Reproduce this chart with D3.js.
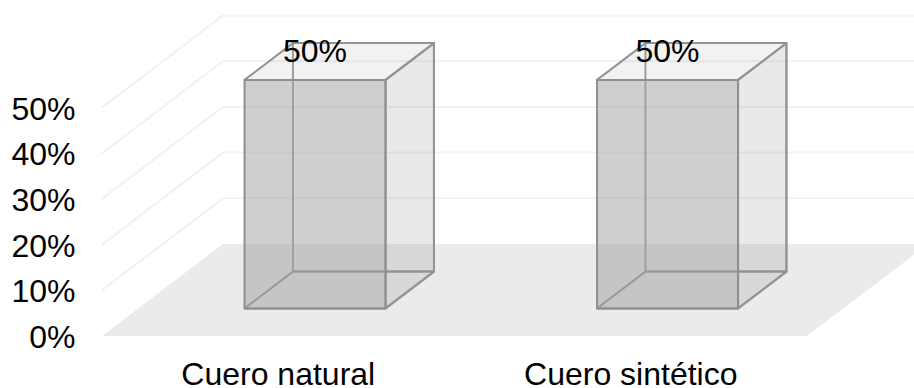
<!DOCTYPE html>
<html>
<head>
<meta charset="utf-8">
<script src="https://cdn.jsdelivr.net/npm/d3@7"></script>
<style>
    html, body { margin: 0; padding: 0; background: #fff; }
    text { font-family: "Liberation Sans", Arial, sans-serif; fill: #000; }
</style>
</head>
<body>
<svg id="chart" width="914" height="388"></svg>
<script>
// Chart data
var categories = ['Cuero natural', 'Cuero sintético'];
var seriesValues = [0.5, 0.5];
var tickValues = [0, 0.1, 0.2, 0.3, 0.4, 0.5];

var fontSize = 32;
var svg = d3.select('#chart');

// Front edge of the floor, and how far the depth axis pushes things back
var floorFront = 336;
var xScale = d3.scaleBand()
    .domain(categories)
    .range([102, 807])
    .paddingInner(0.6)
    .paddingOuter(0.3);
var yScale = d3.scaleLinear().domain([0, 0.5]).range([0, 228.5]);
var depthX = d3.scaleLinear().domain([0, 1]).range([0, 121]);
var depthY = d3.scaleLinear().domain([0, 1]).range([0, 92]);

// Project chart coordinates (x on the front plane, value, depth 0..1) to the page
function px(x, depth) { return x + depthX(depth); }
function py(value, depth) { return floorFront - yScale(value) - depthY(depth); }
function face(points) {
    return 'M' + points.map(function (p) {
        return px(p[0], p[2]) + ',' + py(p[1], p[2]);
    }).join('L') + 'Z';
}

var floorRight = xScale.range()[1];
var floorLeft = xScale.range()[0];

// Floor
svg.append('path')
    .attr('d', face([
        [floorLeft, 0, 0], [floorRight, 0, 0],
        [floorRight, 0, 1], [floorLeft, 0, 1]
    ]))
    .style('fill', '#ebebeb');

// Grid lines on the side and back walls
var gridTicks = tickValues.slice(1);
svg.append('g').selectAll('path')
    .data(gridTicks)
    .enter()
  .append('path')
    .attr('d', function (d) {
        return 'M' + px(floorLeft, 0) + ',' + py(d, 0) +
            'L' + px(floorLeft, 1) + ',' + py(d, 1) +
            'L914,' + py(d, 1);
    })
    .style('fill', 'none')
    .style('stroke', '#f1f1f1')
    .style('stroke-width', 2);

// Bars
var barFront = 0.3;
var barBack = 0.7;
var bars = svg.append('g').selectAll('g')
    .data(categories)
    .enter()
  .append('g')
    .attr('transform', 'translate(0.5,0)');

function drawFace(cornersOf, fill, opacity, stroke) {
    bars.append('path')
        .attr('d', function (d, i) { return face(cornersOf(xScale(d), xScale(d) + xScale.bandwidth(), seriesValues[i])); })
        .style('fill', fill)
        .style('fill-opacity', opacity)
        .style('stroke', stroke)
        .style('stroke-width', 2)
        .style('stroke-linejoin', 'round');
}

// Hidden faces first: left and back edges, seen through the front
drawFace(function (a, b, v) {
    return [[a, 0, barBack], [b, 0, barBack], [b, v, barBack], [a, v, barBack]];
}, 'none', 0, '#a0a0a0');
drawFace(function (a, b, v) {
    return [[a, 0, barFront], [b, 0, barFront], [b, 0, barBack], [a, 0, barBack]];
}, 'none', 0, '#949494');
// Top
drawFace(function (a, b, v) {
    return [[a, v, barFront], [b, v, barFront], [b, v, barBack], [a, v, barBack]];
}, '#808080', 0.105, '#949494');
// Right side
drawFace(function (a, b, v) {
    return [[b, 0, barFront], [b, 0, barBack], [b, v, barBack], [b, v, barFront]];
}, '#808080', 0.173, '#949494');
// Front
drawFace(function (a, b, v) {
    return [[a, 0, barFront], [b, 0, barFront], [b, v, barFront], [a, v, barFront]];
}, '#a0a0a0', 0.505, '#8f8f8f');

// Value labels
bars.append('text')
    .attr('x', function (d) { return xScale(d) + xScale.bandwidth() / 2 + depthX(barFront); })
    .attr('y', function (d, i) { return py(seriesValues[i], barFront) - 18; })
    .attr('text-anchor', 'middle')
    .attr('font-size', fontSize)
    .text(function (d, i) { return d3.format('.0%')(seriesValues[i]); });

// Value axis labels
svg.append('g').selectAll('text')
    .data(tickValues)
    .enter()
  .append('text')
    .attr('x', 75.5)
    .attr('y', function (d) { return py(d, 0) + 12; })
    .attr('text-anchor', 'end')
    .attr('font-size', fontSize)
    .text(d3.format('.0%'));

// Category labels
svg.append('g').selectAll('text')
    .data(categories)
    .enter()
  .append('text')
    .attr('x', function (d) { return xScale(d) + xScale.bandwidth() / 2; })
    .attr('y', 385)
    .attr('text-anchor', 'middle')
    .attr('font-size', fontSize)
    .text(function (d) { return d; });
</script>
</body>
</html>
